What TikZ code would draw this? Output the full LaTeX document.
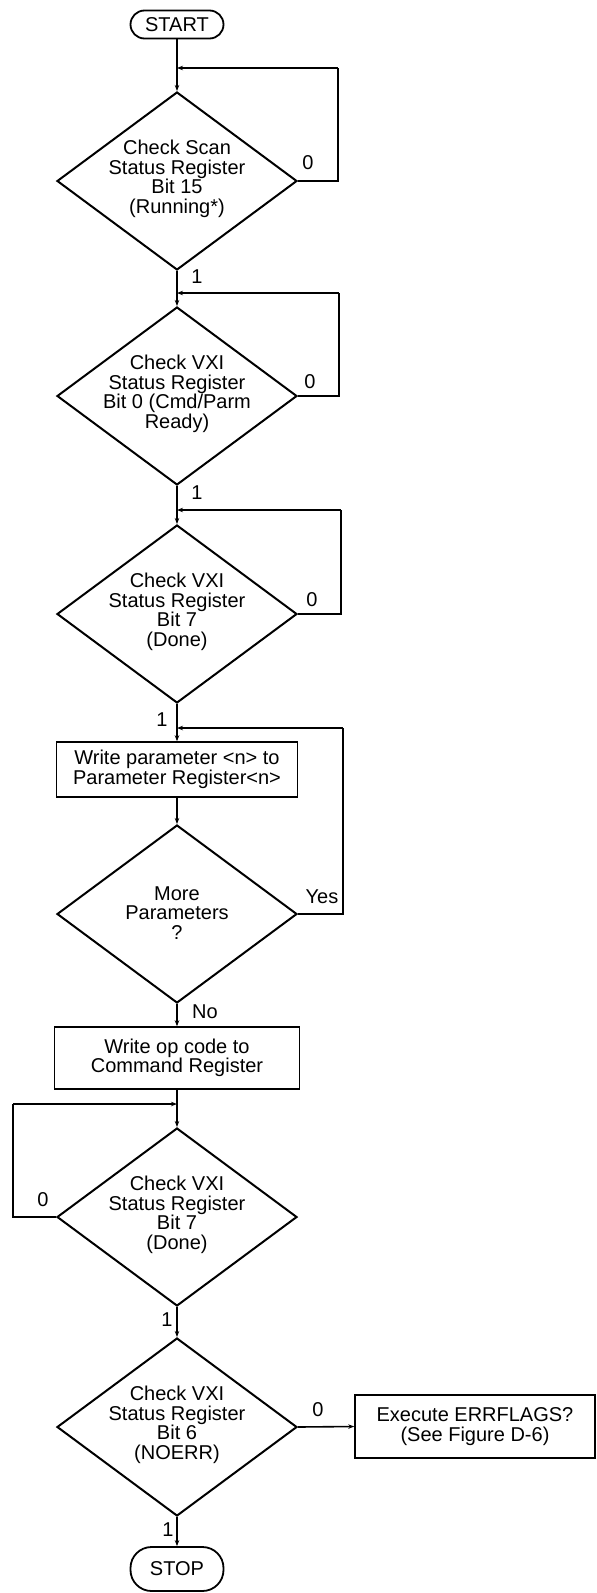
\documentclass[tikz,border=0pt]{standalone}
\usepackage{fontspec}
\setmainfont{Liberation Sans}
\usetikzlibrary{shapes.geometric,arrows.meta}
\begin{document}
\begin{tikzpicture}[x=1pt,y=-1pt,
  every node/.style={font=\fontsize{20}{19.5}\selectfont},
  dia/.style={draw,line width=2pt,shape=diamond,inner sep=0pt,minimum width=240pt,minimum height=178pt},
  txt/.style={align=center,inner sep=0pt},
  stepbox/.style={draw,line width=1.5pt,rectangle,inner sep=0pt,align=center},
  term/.style={draw,line width=1.8pt,rectangle,inner sep=0pt},
  conn/.style={line width=1.6pt},
  arr/.style={line width=1.6pt,-{Stealth[length=6pt,width=4.5pt]}},
  lab/.style={inner sep=0pt}]
\useasboundingbox (0,0) rectangle (597,1593);
\def\xc{177}
% terminals
\node[term,rounded corners=14pt,minimum width=93pt,minimum height=28pt] (start) at (\xc,24.5) {START};
% diamonds
\node[dia] (d1) at (\xc,181) {};
\node[txt] (d1t) at (\xc,179) {Check Scan\\Status Register\\Bit 15\\(Running*)};
\node[dia] (d2) at (\xc,396) {};
\node[txt] (d2t) at (\xc,394) {Check VXI\\Status Register\\Bit 0 (Cmd/Parm\\Ready)};
\node[dia] (d3) at (\xc,614) {};
\node[txt] (d3t) at (\xc,612) {Check VXI\\Status Register\\Bit 7\\(Done)};
\node[stepbox,minimum width=241pt,minimum height=55pt] (b1) at (\xc,769.5) {Write parameter <n> to\\Parameter Register<n>};
\node[dia] (d4) at (\xc,914) {};
\node[txt] (d4t) at (\xc,913) {More\\Parameters\\?};
\node[stepbox,minimum width=245pt,minimum height=62pt] (b2) at (\xc,1058) {Write op code to\\Command Register};
\node[dia] (d5) at (\xc,1217) {};
\node[txt] (d5t) at (\xc,1215) {Check VXI\\Status Register\\Bit 7\\(Done)};
\node[dia] (d6) at (\xc,1427) {};
\node[txt] (d6t) at (\xc,1425) {Check VXI\\Status Register\\Bit 6\\(NOERR)};
\node[stepbox,minimum width=240pt,minimum height=63pt] (ex) at (475,1426.5) {Execute ERRFLAGS?\\(See Figure D-6)};
\node[term,rounded corners=21pt,minimum width=93pt,minimum height=44pt] (stop) at (\xc,1569) {STOP};
% junction coordinates
\coordinate (j1) at (\xc,68);   \coordinate (r1) at (338,68);
\coordinate (j2) at (\xc,293);  \coordinate (r2) at (339,293);
\coordinate (j3) at (\xc,510);  \coordinate (r3) at (341,510);
\coordinate (j4) at (\xc,728);  \coordinate (r4) at (343,728);
\coordinate (j5) at (\xc,1104); \coordinate (r5) at (13,1104);
% main flow
\draw[arr] (start) -- (d1.north);
\draw[arr] (d1.south) -- (d2.north);
\draw[arr] (d2.south) -- (d3.north);
\draw[arr] (d3.south) -- (b1.north);
\draw[arr] (b1.south) -- (d4.north);
\draw[arr] (d4.south) -- (b2.north);
\draw[arr] (b2.south) -- (d5.north);
\draw[arr] (d5.south) -- (d6.north);
\draw[arr] (d6.south) -- (stop.north);
\draw[arr] (d6.east) -- (ex.west);
% loops
\draw[conn] (d1.east) -| (r1);
\draw[arr] (r1) -- (j1);
\draw[conn] (d2.east) -| (r2);
\draw[arr] (r2) -- (j2);
\draw[conn] (d3.east) -| (r3);
\draw[arr] (r3) -- (j3);
\draw[conn] (d4.east) -| (r4);
\draw[arr] (r4) -- (j4);
\draw[conn] (d5.west) -| (r5);
\draw[arr] (r5) -- (j5);
% labels
\node[lab] (l1) at (308,163) {0};
\node[lab] (l2) at (197,277) {1};
\node[lab] (l3) at (310,382) {0};
\node[lab] (l4) at (197,493) {1};
\node[lab] (l5) at (312,600) {0};
\node[lab] (l6) at (162,720) {1};
\node[lab] (l7) at (322,897) {Yes};
\node[lab] (l8) at (205,1012) {No};
\node[lab] (l9) at (43,1200) {0};
\node[lab] (l10) at (167,1320) {1};
\node[lab] (l11) at (318,1410) {0};
\node[lab] (l12) at (168,1530) {1};
\end{tikzpicture}
\end{document}
